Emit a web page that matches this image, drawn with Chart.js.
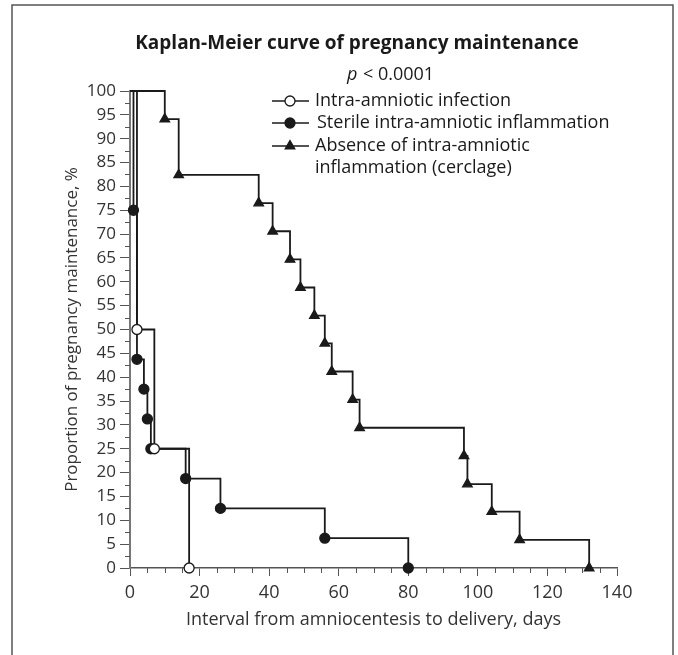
<!DOCTYPE html>
<html>
<head>
<meta charset="utf-8">
<script src="https://cdn.jsdelivr.net/npm/chart.js@4.4.0/dist/chart.umd.min.js"></script>
<style>
  body { margin: 0; background: #fff; }
  canvas { display: block; }
</style>
</head>
<body>
<canvas id="kmChart" width="678" height="655"></canvas>
<script>
// Kaplan-Meier data (days, % still pregnant)
const infectionDays = [0, 2, 7, 17];
const infectionSurv = [100, 50, 25, 0];

const sterileDays = [0, 1, 2, 4, 5, 6, 16, 26, 56, 80];
const sterileSurv = [100, 75, 43.75, 37.5, 31.25, 25, 18.75, 12.5, 6.25, 0];

const cerclageDays = [0, 10, 14, 37, 41, 46, 49, 53, 56, 58, 64, 66, 96, 97, 104, 112, 132];
const cerclageSurv = [100, 94.1, 82.4, 76.5, 70.6, 64.7, 58.8, 52.9, 47.1, 41.2, 35.3, 29.4, 23.5, 17.6, 11.8, 5.9, 0];

const seriesLabels = [
  ["Intra-amniotic infection"],
  ["Sterile intra-amniotic inflammation"],
  ["Absence of intra-amniotic", "inflammation (cerclage)"]
];

const xTicks = [0, 20, 40, 60, 80, 100, 120, 140];

const FONT = "'Open Sans', 'Noto Sans', sans-serif";
const INK = "#1a1a1a";

function toPoints(days, surv) {
  return days.map((d, i) => ({ x: d, y: surv[i] }));
}

// no marker on the starting point
const hideFirst = r => ctx => (ctx.dataIndex === 0 ? 0 : r);

function drawMarker(ctx, style, x, y) {
  ctx.save();
  ctx.lineWidth = 1.3;
  ctx.strokeStyle = INK;
  ctx.beginPath();
  if (style === "triangle") {
    const r = 5.5;
    ctx.moveTo(x, y - r);
    ctx.lineTo(x + r * 0.866, y + r * 0.5);
    ctx.lineTo(x - r * 0.866, y + r * 0.5);
    ctx.closePath();
    ctx.fillStyle = INK;
  } else {
    ctx.arc(x, y, 5, 0, Math.PI * 2);
    ctx.fillStyle = style === "open" ? "#fff" : INK;
  }
  ctx.fill();
  ctx.stroke();
  ctx.restore();
}

// frame, title, p value, legend, minor ticks
const decorations = {
  id: "decorations",
  beforeDraw(chart) {
    const ctx = chart.ctx;
    ctx.save();
    ctx.strokeStyle = "#555";
    ctx.lineWidth = 1.5;
    ctx.beginPath();
    ctx.moveTo(12, 660);
    ctx.lineTo(12, 5);
    ctx.lineTo(673, 5);
    ctx.lineTo(673, 660);
    ctx.stroke();

    ctx.fillStyle = INK;
    ctx.textAlign = "center";
    ctx.textBaseline = "middle";
    ctx.font = "bold 19px " + FONT;
    ctx.fillText("Kaplan-Meier curve of pregnancy maintenance", 357, 44);

    // p value with italic p
    ctx.textAlign = "left";
    ctx.font = "italic 18px " + FONT;
    ctx.fillText("p", 347, 75);
    ctx.font = "18px " + FONT;
    ctx.fillText("< 0.0001", 363, 75);
    ctx.restore();
  },
  afterDraw(chart) {
    const ctx = chart.ctx;
    const xs = chart.scales.x;
    const ys = chart.scales.y;
    ctx.save();
    ctx.strokeStyle = "#555";
    ctx.lineWidth = 1;
    ctx.beginPath();
    for (let v = 5; v < 140; v += 5) {
      if (v % 20 === 0) continue;
      const px = Math.round(xs.getPixelForValue(v)) + 0.5;
      ctx.moveTo(px, xs.top);
      ctx.lineTo(px, xs.top + 5);
    }
    for (let v = 2.5; v < 100; v += 5) {
      const py = Math.round(ys.getPixelForValue(v)) + 0.5;
      ctx.moveTo(ys.right - 5, py);
      ctx.lineTo(ys.right, py);
    }
    ctx.stroke();

    // legend
    const styles = ["open", "filled", "triangle"];
    const rows = [101, 123, 146];
    ctx.font = "18px " + FONT;
    ctx.fillStyle = INK;
    ctx.textBaseline = "middle";
    ctx.textAlign = "left";
    styles.forEach((s, i) => {
      const y = rows[i];
      ctx.strokeStyle = INK;
      ctx.lineWidth = 1.5;
      ctx.beginPath();
      ctx.moveTo(272, y);
      ctx.lineTo(309, y);
      ctx.stroke();
      drawMarker(ctx, s, 290, y);
      seriesLabels[i].forEach((line, j) => {
        ctx.fillText(line, i === 1 ? 317 : 315, y + j * 22);
      });
    });
    ctx.restore();
  }
};

const common = {
  stepped: "before",
  borderColor: INK,
  borderWidth: 1.8,
  pointBorderColor: INK,
  pointBorderWidth: 1.3,
  clip: false
};

new Chart(document.getElementById("kmChart"), {
  type: "line",
  data: {
    datasets: [
      {
        ...common,
        label: seriesLabels[0].join(" "),
        data: toPoints(infectionDays, infectionSurv),
        pointStyle: "circle",
        pointBackgroundColor: "#fff",
        pointRadius: hideFirst(5)
      },
      {
        ...common,
        label: seriesLabels[1].join(" "),
        data: toPoints(sterileDays, sterileSurv),
        pointStyle: "circle",
        pointBackgroundColor: INK,
        pointRadius: hideFirst(5)
      },
      {
        ...common,
        label: seriesLabels[2].join(" "),
        data: toPoints(cerclageDays, cerclageSurv),
        pointStyle: "triangle",
        pointBackgroundColor: INK,
        pointRadius: hideFirst(5.5)
      }
    ]
  },
  options: {
    responsive: false,
    animation: false,
    layout: { padding: { left: 12, right: 61, top: 91, bottom: 0 } },
    plugins: { legend: { display: false }, tooltip: { enabled: false } },
    scales: {
      x: {
        type: "linear",
        min: 0,
        max: 140,
        afterBuildTicks: s => { s.ticks = xTicks.map(v => ({ value: v })); },
        afterFit: s => { s.height = 87; },
        ticks: { color: "#333", font: { family: FONT, size: 18 }, padding: 6, maxRotation: 0 },
        grid: { drawOnChartArea: false, tickLength: 8, color: "#555" },
        border: { color: "#555", width: 1.5 },
        title: {
          display: true,
          text: "Interval from amniocentesis to delivery, days",
          color: "#333",
          font: { family: FONT, size: 18 },
          padding: { bottom: 24 }
        }
      },
      y: {
        min: 0,
        max: 100,
        ticks: { stepSize: 5, color: "#333", font: { family: FONT, size: 17 }, padding: 4 },
        afterFit: s => { s.width = 118; },
        grid: { drawOnChartArea: false, tickLength: 10, color: "#555" },
        border: { color: "#777", width: 2 },
        title: {
          display: true,
          text: "Proportion of pregnancy maintenance, %",
          color: "#333",
          font: { family: FONT, size: 17 },
          padding: { top: 50 }
        }
      }
    }
  },
  plugins: [decorations]
});
</script>
</body>
</html>
